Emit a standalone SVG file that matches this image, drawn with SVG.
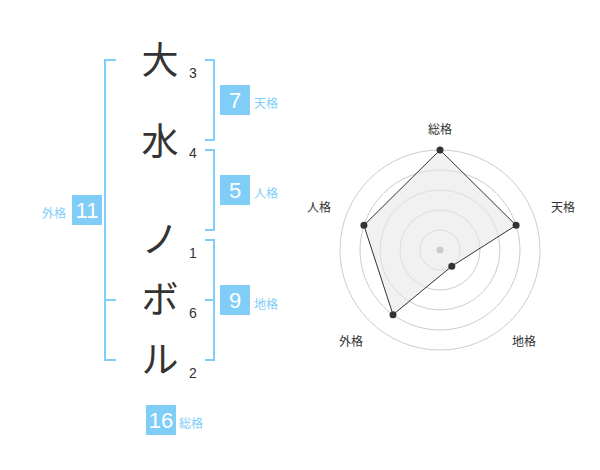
<svg xmlns="http://www.w3.org/2000/svg" width="600" height="470" viewBox="0 0 600 470">
<style>
.ch{font-family:"Noto Sans CJK JP","Noto Sans CJK SC",sans-serif;font-size:37px;fill:#333;text-anchor:middle}
.st{font-family:"Liberation Sans",Arial,sans-serif;font-size:14px;fill:#333;text-anchor:middle}
.br{fill:none;stroke:#80cdf8;stroke-width:2}
.box{fill:#80cdf8}
.bn{font-family:"Liberation Sans",Arial,sans-serif;font-size:22px;fill:#fff;text-anchor:middle}
.bl{font-family:"Noto Sans CJK JP",sans-serif;font-size:12px;fill:#80cdf8}
.rl{font-family:"Noto Sans CJK JP",sans-serif;font-size:12px;fill:#333;text-anchor:middle}
.ring{fill:none;stroke:#cccccc;stroke-width:1}
.pt{fill:#333}
</style>
<rect width="600" height="470" fill="#fff"/>
<g id="chars">
<text class="ch" x="160" y="74">大</text>
<text class="ch" x="160" y="155">水</text>
<text class="ch" x="160" y="253">ノ</text>
<text class="ch" x="160" y="313">ボ</text>
<text class="ch" x="160" y="373">ル</text>
<text class="st" x="193" y="78">3</text>
<text class="st" x="193" y="158">4</text>
<text class="st" x="193" y="258">1</text>
<text class="st" x="193" y="318">6</text>
<text class="st" x="193" y="378">2</text>
</g>
<g id="connectors">
<path class="br" d="M116,60 H105 V360 H116 M105,300 H116"/>
<path class="br" d="M205,60 H214 V140 H205"/>
<path class="br" d="M205,150 H214 V230 H205"/>
<path class="br" d="M205,240 H214 V360 H205 M205,300 H214"/>
</g>
<g id="tenkaku"><rect class="box" x="220" y="85" width="30" height="30"/><text class="bn" x="235" y="108">7</text><text class="bl" x="254" y="108">天格</text></g>
<g id="jinkaku"><rect class="box" x="220" y="175" width="30" height="30"/><text class="bn" x="235" y="198">5</text><text class="bl" x="254" y="198">人格</text></g>
<g id="gaikaku"><rect class="box" x="72" y="195" width="30" height="30"/><text class="bn" x="87" y="218">11</text><text class="bl" x="42" y="218">外格</text></g>
<g id="chikaku"><rect class="box" x="220" y="285" width="30" height="30"/><text class="bn" x="235" y="308">9</text><text class="bl" x="254" y="309">地格</text></g>
<g id="soukaku"><rect class="box" x="146" y="405" width="30" height="30"/><text class="bn" x="161" y="428">16</text><text class="bl" x="179" y="428">総格</text></g>
<g id="radar">
<circle class="ring" cx="440" cy="250" r="20"/>
<circle class="ring" cx="440" cy="250" r="40"/>
<circle class="ring" cx="440" cy="250" r="60"/>
<circle class="ring" cx="440" cy="250" r="80"/>
<circle class="ring" cx="440" cy="250" r="100"/>
<polygon points="440,150 516.1,225.3 451.8,266.2 393,314.7 363.9,225.3" fill="#e8e8e8" fill-opacity="0.6" stroke="#333" stroke-width="1"/>
<circle cx="440" cy="250" r="3.5" fill="#cccccc"/>
<circle class="pt" cx="440" cy="150" r="3.5"/>
<circle class="pt" cx="516.1" cy="225.3" r="3.5"/>
<circle class="pt" cx="451.8" cy="266.2" r="3.5"/>
<circle class="pt" cx="393" cy="314.7" r="3.5"/>
<circle class="pt" cx="363.9" cy="225.3" r="3.5"/>
<text class="rl" x="440" y="134">総格</text>
<text class="rl" x="563" y="212">天格</text>
<text class="rl" x="524" y="346">地格</text>
<text class="rl" x="351" y="346">外格</text>
<text class="rl" x="319" y="212">人格</text>
</g>
</svg>
